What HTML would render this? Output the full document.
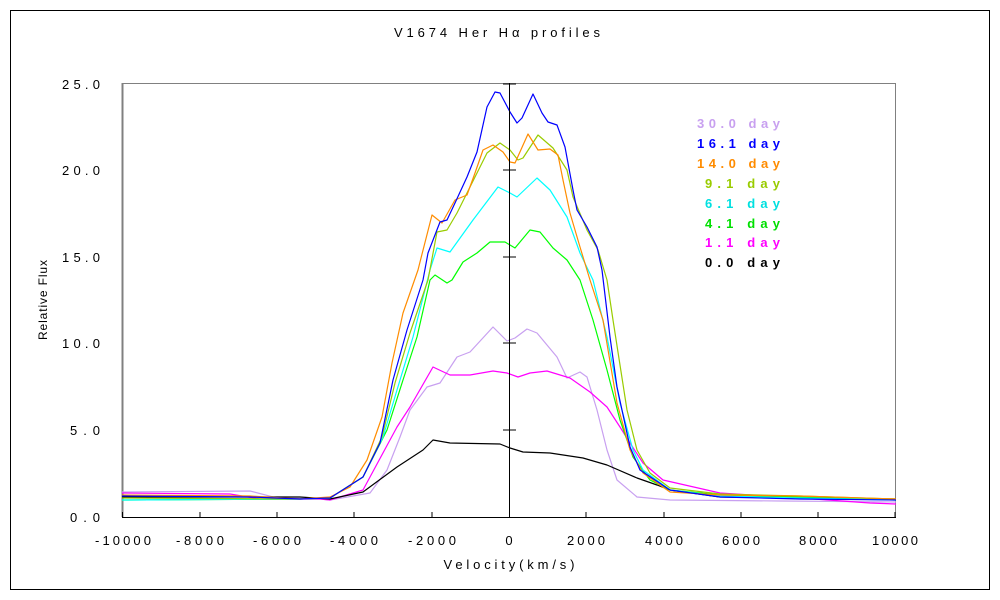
<!DOCTYPE html>
<html><head><meta charset="utf-8"><style>body{margin:0;background:#fff}svg{display:block}text{font-family:"Liberation Sans",sans-serif}</style></head><body>
<svg width="1000" height="600" viewBox="0 0 1000 600" xmlns="http://www.w3.org/2000/svg">
<rect x="0" y="0" width="1000" height="600" fill="#fff"/>
<rect x="10.5" y="10.5" width="979" height="579" fill="none" stroke="#000" stroke-width="1"/>
<text x="497" y="37" font-size="13" text-anchor="middle" textLength="206" lengthAdjust="spacing">V1674 Her  Hα  profiles</text>
<line x1="122" y1="83.5" x2="896" y2="83.5" stroke="#808080"/>
<line x1="895.5" y1="83" x2="895.5" y2="517" stroke="#808080"/>
<line x1="122.5" y1="83" x2="122.5" y2="517" stroke="#808080" stroke-width="2"/>
<g fill="none" stroke-width="1.2" stroke-linejoin="round">
<polyline stroke="#c8a0f0" points="122,492 250,491 277,498 320,499 330,500 370,493 387,470 400,437 410,410 427,387 440,383 457,357 470,352 493,327 507,341 515,338 527,329 537,333 557,357 567,378 580,372 587,377 597,410 607,450 617,480 637,497 670,500 780,501 896,502"/>
<polyline stroke="#ff00ff" points="122,493 230,494 260,499 320,499 330,500 363,490 397,427 410,407 433,367 450,375 470,375 493,371 507,373 518,377 530,373 547,371 570,378 590,392 607,407 620,427 630,443 643,463 663,480 720,493 800,498 870,503 896,504"/>
<polyline stroke="#000" points="122,497 300,497 330,499 363,492 397,467 423,450 433,440 450,443 500,444 510,448 523,452 550,453 583,458 607,465 637,478 657,485 670,490 720,497 896,499"/>
<polyline stroke="#00ff00" points="122,500 300,499 330,498 363,477 387,430 403,380 417,337 430,280 435,275 447,283 452,280 463,262 477,253 490,242 505,242 515,248 530,230 540,232 553,248 567,260 580,280 593,320 607,370 620,420 633,457 650,480 670,490 720,495 800,497 896,500"/>
<polyline stroke="#00ffff" points="122,500 300,499 330,498 363,477 383,437 397,390 413,337 430,270 437,248 450,252 473,220 498,187 510,193 517,197 537,178 550,190 567,217 580,253 593,280 607,337 620,403 633,450 643,470 670,490 720,496 800,498 896,500"/>
<polyline stroke="#99cc00" points="122,498 300,499 330,498 363,477 382,437 395,383 410,333 428,280 437,232 447,230 457,213 477,173 487,153 500,143 510,150 518,160 523,158 538,135 553,148 567,170 573,197 587,230 598,250 607,280 613,320 627,410 637,450 650,473 670,488 720,494 800,496 896,499"/>
<polyline stroke="#ff8c00" points="122,495 250,496 300,499 330,497 350,487 367,460 382,417 392,363 403,313 418,270 420,262 432,215 442,223 455,200 467,195 475,173 483,150 493,145 503,152 510,162 515,163 528,134 538,150 550,149 558,155 563,180 570,213 580,247 590,280 603,320 617,403 630,450 643,473 670,492 720,495 800,496 896,499"/>
<polyline stroke="#0000ff" points="122,496 250,497 300,499 330,498 363,477 380,443 393,380 407,330 423,280 428,253 440,222 447,220 455,203 467,177 477,152 487,107 495,92 500,93 510,112 517,123 522,118 533,94 542,113 548,122 557,125 565,147 573,190 577,210 587,227 597,247 602,270 610,337 617,387 630,447 640,470 670,490 720,497 800,499 896,500"/>
</g>
<line x1="509.5" y1="83" x2="509.5" y2="517" stroke="#000"/>
<g stroke="#000">
<line x1="503" y1="430" x2="516" y2="430"/><line x1="503" y1="343" x2="516" y2="343"/><line x1="503" y1="257" x2="516" y2="257"/><line x1="503" y1="170" x2="516" y2="170"/><line x1="503" y1="84" x2="516" y2="84"/>
</g>
<line x1="122" y1="517.5" x2="896" y2="517.5" stroke="#000"/>
<g stroke="#000">
<line x1="122.5" y1="512" x2="122.5" y2="517"/><line x1="200" y1="512" x2="200" y2="517"/><line x1="277" y1="512" x2="277" y2="517"/><line x1="354" y1="512" x2="354" y2="517"/><line x1="432" y1="512" x2="432" y2="517"/><line x1="586" y1="512" x2="586" y2="517"/><line x1="664" y1="512" x2="664" y2="517"/><line x1="741" y1="512" x2="741" y2="517"/><line x1="818" y1="512" x2="818" y2="517"/><line x1="895" y1="512" x2="895" y2="517"/>
</g>
<g font-size="13" text-anchor="middle">
<text x="123" y="545" textLength="56" lengthAdjust="spacing">-10000</text>
<text x="200" y="545" textLength="48" lengthAdjust="spacing">-8000</text>
<text x="277" y="545" textLength="48" lengthAdjust="spacing">-6000</text>
<text x="354" y="545" textLength="48" lengthAdjust="spacing">-4000</text>
<text x="432" y="545" textLength="48" lengthAdjust="spacing">-2000</text>
<text x="509" y="545">0</text>
<text x="586" y="545" textLength="38" lengthAdjust="spacing">2000</text>
<text x="664" y="545" textLength="38" lengthAdjust="spacing">4000</text>
<text x="741" y="545" textLength="38" lengthAdjust="spacing">6000</text>
<text x="818" y="545" textLength="38" lengthAdjust="spacing">8000</text>
<text x="895" y="545" textLength="46" lengthAdjust="spacing">10000</text>
<text x="509" y="569" textLength="131" lengthAdjust="spacing">Velocity(km/s)</text>
</g>
<g font-size="13" text-anchor="end">
<text x="100" y="522" textLength="30" lengthAdjust="spacing">0.0</text>
<text x="100" y="435" textLength="30" lengthAdjust="spacing">5.0</text>
<text x="100" y="348" textLength="38" lengthAdjust="spacing">10.0</text>
<text x="100" y="262" textLength="38" lengthAdjust="spacing">15.0</text>
<text x="100" y="175" textLength="38" lengthAdjust="spacing">20.0</text>
<text x="100" y="89" textLength="38" lengthAdjust="spacing">25.0</text>
</g>
<text transform="translate(47,300) rotate(-90)" font-size="12" text-anchor="middle" textLength="80" lengthAdjust="spacing">Relative Flux</text>
<g font-size="13" font-weight="bold" text-anchor="end">
<text x="780" y="128" fill="#c8a0f0" textLength="83" lengthAdjust="spacing">30.0 day</text>
<text x="780" y="148" fill="#0000ff" textLength="83" lengthAdjust="spacing">16.1 day</text>
<text x="780" y="168" fill="#ff8c00" textLength="83" lengthAdjust="spacing">14.0 day</text>
<text x="780" y="188" fill="#99cc00" textLength="75" lengthAdjust="spacing">9.1 day</text>
<text x="780" y="208" fill="#00e0e0" textLength="75" lengthAdjust="spacing">6.1 day</text>
<text x="780" y="228" fill="#00e000" textLength="75" lengthAdjust="spacing">4.1 day</text>
<text x="780" y="247" fill="#ff00ff" textLength="75" lengthAdjust="spacing">1.1 day</text>
<text x="780" y="267" fill="#000" textLength="75" lengthAdjust="spacing">0.0 day</text>
</g>
</svg>
</body></html>
